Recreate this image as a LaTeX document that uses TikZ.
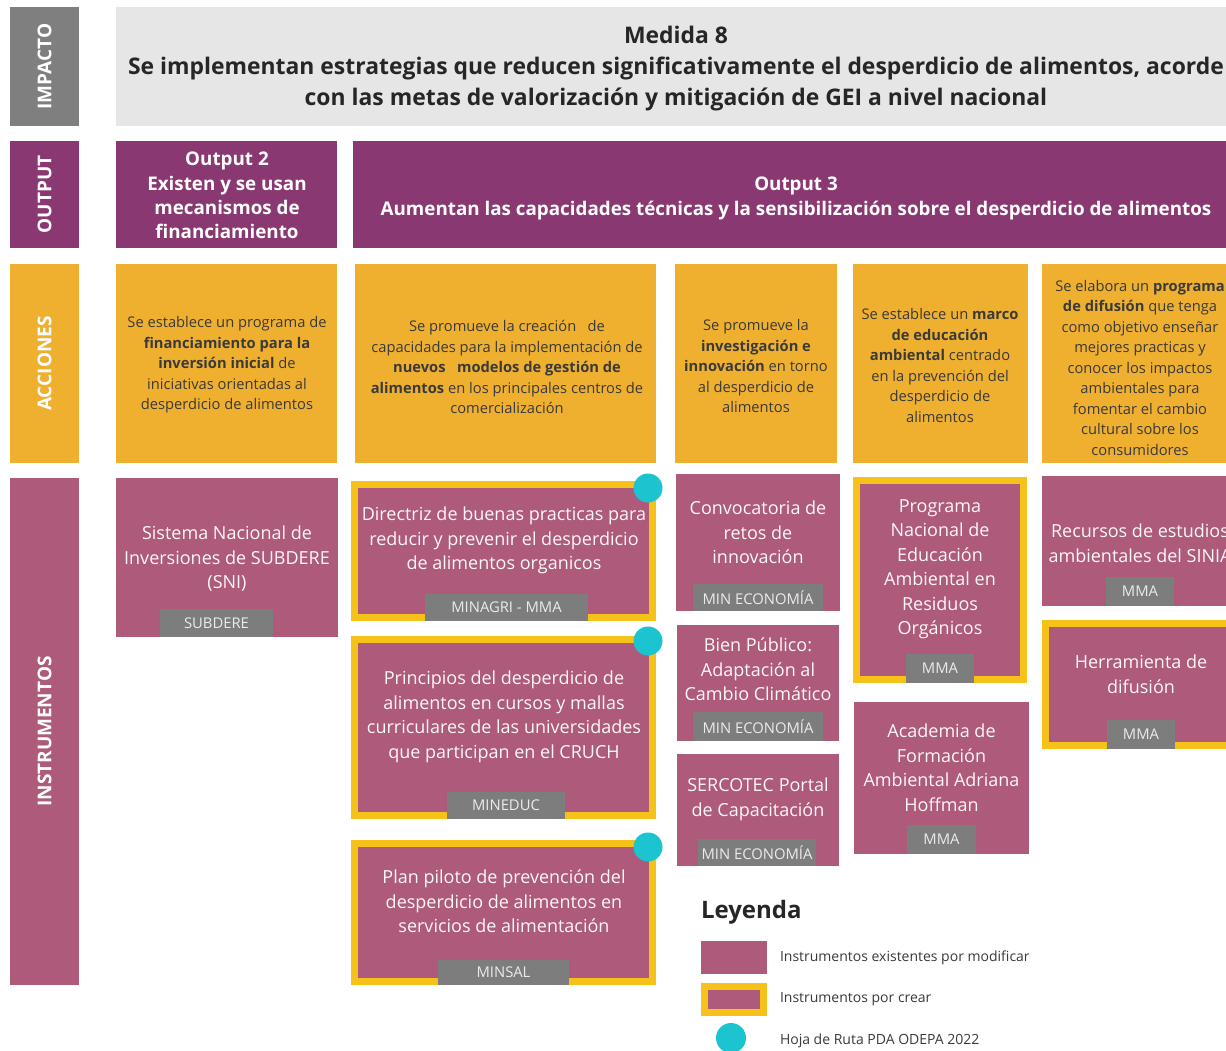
\documentclass[tikz,border=0pt]{standalone}
\usepackage{fontspec}
\setmainfont{Open Sans}
\definecolor{impbg}{HTML}{E6E6E6}
\definecolor{impside}{HTML}{7F7F7F}
\definecolor{outpurple}{HTML}{8A3872}
\definecolor{actorange}{HTML}{EFB030}
\definecolor{instpink}{HTML}{AD5A7B}
\definecolor{newyellow}{HTML}{F6C21A}
\definecolor{tagstone}{HTML}{7D7D7D}
\definecolor{roadteal}{HTML}{1CC4CF}
\definecolor{darktext}{HTML}{262626}
\definecolor{acttext}{HTML}{3A3A3A}

% box whose corners are given as x1,y1,x2,y2
\newcommand\plainbox[6]{\node[#2, minimum width={#5-#3}, minimum height={#6-#4}] (#1) at ({(#3+#5)/2},{(#4+#6)/2}) {};}
% pink box with a yellow frame; corners are the outer edge of the frame
\newcommand\framedbox[5]{\node[framed, minimum width={#4-#2-7}, minimum height={#5-#3-7}] (#1) at ({(#2+#4)/2},{(#3+#5)/2}) {};}

\begin{document}
\begin{tikzpicture}[x=1pt,y=-1pt,
  every node/.style={inner sep=0pt, outer sep=0pt},
  sidebox/.style={rectangle},
  sidetext/.style={rotate=90, text=white, font=\fontsize{19}{22}\selectfont\bfseries},
  impbox/.style={rectangle, fill=impbg},
  outbox/.style={rectangle, fill=outpurple},
  actbox/.style={rectangle, fill=actorange},
  pinkbox/.style={rectangle, fill=instpink},
  framed/.style={rectangle, fill=instpink, draw=newyellow, line width=7pt},
  imptext/.style={align=center, text=darktext, font=\fontsize{22.9}{31}\selectfont\bfseries},
  outtext/.style={align=center, text=white, font=\fontsize{18.8}{24.3}\selectfont\bfseries},
  acttxt/.style={align=center, text=acttext, font=\fontsize{14.7}{20.5}\selectfont},
  itext/.style={align=center, text=white!95!instpink, font=\fontsize{18}{24.5}\selectfont},
  tag/.style={rectangle, fill=tagstone, text=white!92!black, anchor=south, font=\fontsize{14.8}{16}\selectfont},
  dot/.style={circle, fill=roadteal, minimum size=29pt},
  legtext/.style={anchor=west, text=acttext, font=\fontsize{14}{16}\selectfont}
]
\useasboundingbox (0,0) rectangle (1226,1050);
\fill[white] (0,0) rectangle (1226,1050);
\clip (0,0) rectangle (1226,1050);

% ---------- row labels ----------
\plainbox{lImp}{sidebox, fill=impside}{10}{7}{79}{126}
\plainbox{lOut}{sidebox, fill=outpurple}{10}{141}{79}{248}
\plainbox{lAct}{sidebox, fill=actorange}{10}{264}{79}{463}
\plainbox{lIns}{sidebox, fill=instpink}{10}{478}{79}{985}
\node[sidetext] (lImpT) at (lImp) {IMPACTO};
\node[sidetext] (lOutT) at (lOut) {OUTPUT};
\node[sidetext] (lActT) at (lAct) {ACCIONES};
\node[sidetext] (lInsT) at (lIns) {INSTRUMENTOS};

% ---------- impact ----------
\plainbox{imp}{impbox}{116}{7}{1240}{126}
\node[imptext] (impT) at (676,69) {Medida 8\\Se implementan estrategias que reducen significativamente el desperdicio de alimentos, acorde\\con las metas de valorización y mitigación de GEI a nivel nacional};

% ---------- outputs ----------
\plainbox{out2}{outbox}{116}{141}{337}{248}
\node[outtext] (out2T) at (227,195.5) {Output 2\\Existen y se usan\\mecanismos de\\financiamiento};
\plainbox{out3}{outbox}{353}{141}{1240}{248}
\node[outtext] (out3T) at (796,198.5) {Output 3\\Aumentan las capacidades técnicas y la sensibilización sobre el desperdicio de alimentos};

% ---------- actions ----------
\plainbox{a1}{actbox}{116}{264}{337}{463}
\node[acttxt] (a1T) at (227,365) {Se establece un programa de\\\textbf{financiamiento para la}\\\textbf{inversión inicial} de\\iniciativas orientadas al\\desperdicio de alimentos};
\plainbox{a2}{actbox}{355}{264}{656}{463}
\node[acttxt] (a2T) at (507,367) {Se promueve la creación\ \ \ de\\capacidades para la implementación de\\\textbf{nuevos\ \ \ modelos de gestión de}\\\textbf{alimentos} en los principales centros de\\comercialización};
\plainbox{a3}{actbox}{675}{264}{837}{463}
\node[acttxt] (a3T) at (756,366) {Se promueve la\\\textbf{investigación e}\\\textbf{innovación} en torno\\al desperdicio de\\alimentos};
\plainbox{a4}{actbox}{853}{264}{1028}{463}
\node[acttxt] (a4T) at (940,365.5) {Se establece un \textbf{marco}\\\textbf{de educación}\\\textbf{ambiental} centrado\\en la prevención del\\desperdicio de\\alimentos};
\plainbox{a5}{actbox}{1042}{264}{1240}{463}
\node[acttxt] (a5T) at (1140,367.5) {Se elabora un \textbf{programa}\\\textbf{de difusión} que tenga\\como objetivo enseñar\\mejores practicas y\\conocer los impactos\\ambientales para\\fomentar el cambio\\cultural sobre los\\consumidores};

% ---------- instruments ----------
\plainbox{i1}{pinkbox}{116}{478}{338}{637}
\node[itext] (i1T) at (227,559) {Sistema Nacional de\\Inversiones de SUBDERE\\(SNI)};
\node[tag, minimum width=113pt, minimum height=28pt] (i1L) at (216.5,637) {SUBDERE};

\framedbox{i2}{351}{481}{656}{621}
\node[itext] (i2T) at (504,540.5) {Directriz de buenas practicas para\\reducir y prevenir el desperdicio\\de alimentos organicos};
\node[tag, minimum width=163pt, minimum height=27pt] (i2L) at (506.5,621) {MINAGRI - MMA};
\node[dot] (i2D) at (648,488) {};

\framedbox{i3}{351}{636}{656}{819}
\node[itext] (i3T) at (504,717) {Principios del desperdicio de\\alimentos en cursos y mallas\\curriculares de las universidades\\que participan en el CRUCH};
\node[tag, minimum width=118pt, minimum height=27pt] (i3L) at (506,819) {MINEDUC};
\node[dot] (i3D) at (648,641) {};

\framedbox{i4}{351}{840}{656}{985}
\node[itext] (i4T) at (504,901.5) {Plan piloto de prevención del\\desperdicio de alimentos en\\servicios de alimentación};
\node[tag, minimum width=131pt, minimum height=25pt] (i4L) at (503.5,985) {MINSAL};
\node[dot] (i4D) at (648,847) {};

\plainbox{i5}{pinkbox}{676}{474}{840}{611}
\node[itext] (i5T) at (758,532.5) {Convocatoria de\\retos de\\innovación};
\node[tag, minimum width=130pt, minimum height=27pt] (i5L) at (758,611) {MIN ECONOMÍA};

\plainbox{i6}{pinkbox}{677}{625}{839}{741}
\node[itext] (i6T) at (758,669.5) {Bien Público:\\Adaptación al\\Cambio Climático};
\node[tag, minimum width=130pt, minimum height=29pt] (i6L) at (758,741) {MIN ECONOMÍA};

\plainbox{i7}{pinkbox}{677}{754}{839}{866}
\node[itext] (i7T) at (758,799.5) {SERCOTEC Portal\\de Capacitación};
\node[tag, minimum width=118pt, minimum height=27pt] (i7L) at (757,866) {MIN ECONOMÍA};

\framedbox{i8}{853}{477}{1027}{683}
\node[itext] (i8T) at (940,569) {Programa\\Nacional de\\Educación\\Ambiental en\\Residuos\\Orgánicos};
\node[tag, minimum width=68pt, minimum height=29pt] (i8L) at (940,683) {MMA};

\plainbox{i9}{pinkbox}{854}{702}{1029}{854}
\node[itext] (i9T) at (941.5,767.5) {Academia de\\Formación\\Ambiental Adriana\\Hoffman};
\node[tag, minimum width=69pt, minimum height=29pt] (i9L) at (941.5,854) {MMA};

\plainbox{i10}{pinkbox}{1042}{476}{1240}{606}
\node[itext] (i10T) at (1140,543) {Recursos de estudios\\ambientales del SINIA};
\node[tag, minimum width=68pt, minimum height=29pt] (i10L) at (1140,606) {MMA};

\framedbox{i11}{1042}{620}{1240}{749}
\node[itext] (i11T) at (1141,674) {Herramienta de\\difusión};
\node[tag, minimum width=68pt, minimum height=29pt] (i11L) at (1141,749) {MMA};

% ---------- legend ----------
\node[anchor=west, text=darktext, font=\fontsize{24}{28}\selectfont\bfseries] (legT) at (701,912) {Leyenda};
\plainbox{legA}{pinkbox}{701}{941}{767}{974}
\node[legtext] (legAT) at (780,958) {Instrumentos existentes por modificar};
\framedbox{legB}{701}{983}{767}{1016}
\node[legtext] (legBT) at (780,999.5) {Instrumentos por crear};
\node[dot, minimum size=30pt] (legC) at (731,1038) {};
\node[legtext] (legCT) at (780,1041) {Hoja de Ruta PDA ODEPA 2022};
\end{tikzpicture}
\end{document}
